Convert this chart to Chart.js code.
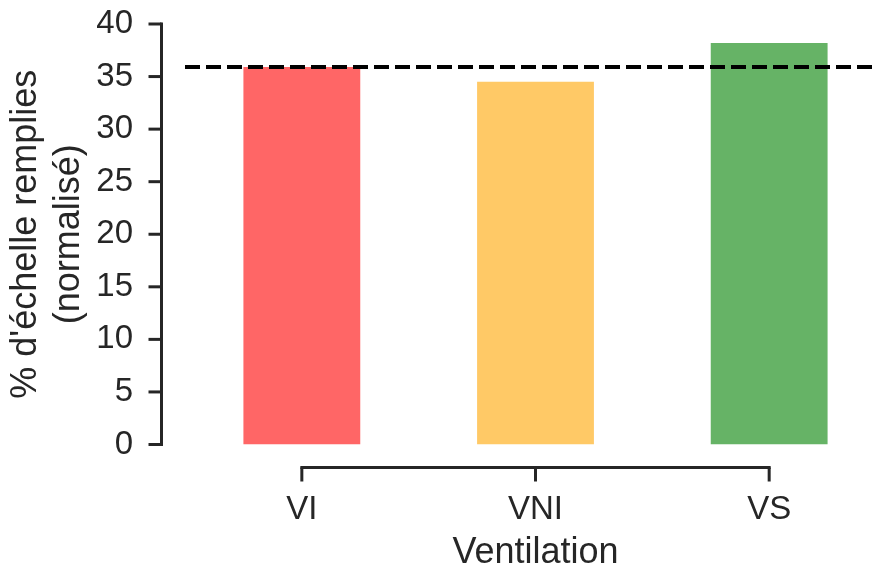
<!DOCTYPE html>
<html>
<head>
<meta charset="utf-8">
<script src="https://cdn.jsdelivr.net/npm/chart.js@4.4.0/dist/chart.umd.min.js"></script>
<style>
  html, body { margin: 0; padding: 0; overflow: hidden; background: #fff; }
  #wrap { width: 900px; height: 580px; }
</style>
</head>
<body>
<div id="wrap"><canvas id="chart"></canvas></div>
<script>
/* ── data ── */
const categories = ['VI', 'VNI', 'VS'];
const values = [35.9, 34.5, 38.2];
const barColors = ['#ff6666', '#ffc966', '#66b366'];
const referenceLevel = 35.9;
const yMin = 0;
const yMax = 40;
const yStep = 5;

const INK = '#262626';
const FONT = '"Liberation Sans", Arial, sans-serif';

/* ── seaborn-like offset, trimmed spines + dashed reference line ── */
const offsetAxes = {
  id: 'offsetAxes',
  afterDatasetsDraw(chart) {
    const { ctx, chartArea, scales } = chart;
    const x = scales.x, y = scales.y;

    // horizontal dashed line across the axes
    const yRef = y.getPixelForValue(referenceLevel);
    ctx.save();
    ctx.strokeStyle = '#000';
    ctx.lineWidth = 4;
    ctx.setLineDash([15, 6]);
    ctx.beginPath();
    ctx.moveTo(chartArea.left, yRef);
    ctx.lineTo(chartArea.right, yRef);
    ctx.stroke();
    ctx.restore();

    ctx.save();
    ctx.strokeStyle = INK;
    ctx.lineWidth = 3;

    // y spine, offset to the left, from first to last tick
    const sx = chartArea.left - 23.5;
    const top = y.getPixelForValue(yMax);
    const bottom = y.getPixelForValue(yMin);
    ctx.lineCap = 'square';
    ctx.beginPath();
    ctx.moveTo(sx, bottom);
    ctx.lineTo(sx, top);
    ctx.stroke();
    ctx.lineCap = 'butt';
    y.ticks.forEach(t => {
      const py = y.getPixelForValue(t.value);
      ctx.beginPath();
      ctx.moveTo(sx - 13, py);
      ctx.lineTo(sx, py);
      ctx.stroke();
    });

    // x spine, offset downwards, from first to last category
    const sy = chartArea.bottom + 23;
    const left = x.getPixelForValue(0);
    const right = x.getPixelForValue(categories.length - 1);
    ctx.lineCap = 'square';
    ctx.beginPath();
    ctx.moveTo(left, sy);
    ctx.lineTo(right, sy);
    ctx.stroke();
    ctx.lineCap = 'butt';
    categories.forEach((c, i) => {
      const px = x.getPixelForValue(i);
      ctx.beginPath();
      ctx.moveTo(px, sy);
      ctx.lineTo(px, sy + 14);
      ctx.stroke();
    });
    ctx.restore();
  }
};

new Chart(document.getElementById('chart'), {
  type: 'bar',
  data: {
    labels: categories,
    datasets: [{
      data: values,
      backgroundColor: barColors,
      borderWidth: 0,
      barPercentage: 0.5,
      categoryPercentage: 1.0,
    }],
  },
  options: {
    responsive: true,
    maintainAspectRatio: false,
    animation: false,
    layout: { padding: { left: 0, top: 24, right: 14, bottom: 0 } },
    plugins: {
      legend: { display: false },
      tooltip: { enabled: false },
    },
    scales: {
      x: {
        offset: true,
        grid: { display: false, drawTicks: false },
        border: { display: false },
        ticks: {
          color: INK,
          padding: 46,
          font: { family: FONT, size: 33 },
        },
        title: {
          display: true,
          text: 'Ventilation',
          color: INK,
          padding: { top: 0, bottom: 5 },
          font: { family: FONT, size: 36 },
        },
        afterFit(scale) {
          scale.height = 135.5;
          scale.paddingLeft = 0;
          scale.paddingRight = 0;
        },
      },
      y: {
        min: yMin,
        max: yMax,
        grid: { display: false, drawTicks: false },
        border: { display: false },
        ticks: {
          stepSize: yStep,
          color: INK,
          padding: 52,
          font: { family: FONT, size: 33 },
        },
        title: {
          display: true,
          text: ["% d'échelle remplies", '(normalisé)'],
          color: INK,
          padding: { top: 4, bottom: 0 },
          font: { family: FONT, size: 36 },
        },
        afterFit(scale) {
          scale.width = 185;
          // tick padding is horizontal only; keep it out of the top/bottom overhang
          scale.paddingTop = 0;
          scale.paddingBottom = 0;
        },
      },
    },
  },
  plugins: [offsetAxes],
});
</script>
</body>
</html>
